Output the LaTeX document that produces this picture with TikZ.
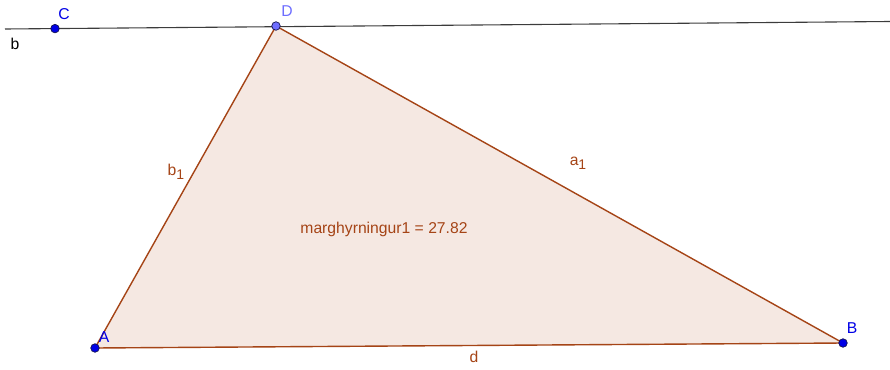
\documentclass[tikz,border=0pt]{standalone}
\usepackage{fontspec}
\setmainfont{Liberation Sans}
\usepackage{tikz}
\usetikzlibrary{calc}
\definecolor{ggbrown}{RGB}{165,68,22}
\definecolor{ggfill}{RGB}{245,232,226}
\definecolor{ggblue}{RGB}{0,0,230}
\definecolor{ggdark}{RGB}{20,20,80}
\definecolor{gglight}{RGB}{110,110,255}
\definecolor{ggline}{RGB}{60,60,60}
\newcommand{\ggsub}[1]{\raisebox{-0.45ex}{\fontsize{14}{14}\selectfont #1}}

\begin{document}
\begin{tikzpicture}[x=1pt,y=-1pt,
    lbl/.style={font=\fontsize{15.7}{17}\selectfont},
    pt/.style={circle,fill=ggblue,draw=ggdark,line width=0.7pt,inner sep=0pt,minimum size=8.5pt},
    freept/.style={pt,fill=gglight}]
  \useasboundingbox (0,0) rectangle (890,369);
  % ---- points
  \coordinate (A) at (95,348);
  \coordinate (B) at (843,343);
  \coordinate (D) at (276,26);
  \coordinate (bl) at (5,29);
  \coordinate (br) at (890,21.5);
  % ---- line b through C and D
  \draw[ggline,line width=1.1pt] (bl) -- (br);
  % ---- polygon
  \filldraw[ggbrown,fill=ggfill,line width=1.4pt,line join=round] (A) -- (B) -- (D) -- cycle;
  \node[lbl,text=ggbrown] (area) at (384,229) {marghyrningur1 = 27.82};
  \node[lbl,text=ggbrown] (lbd) at (474,357) {d};
  \node[lbl,text=ggbrown] (lbb) at (176,172) {b\ggsub{1}};
  \node[lbl,text=ggbrown] (lba) at (578,163) {a\ggsub{1}};
  \node[lbl,text=black] (lbline) at (15,44) {b};
  % ---- point marks
  \node[pt] (C) at (55,28.6) {};
  \node[freept] (Dp) at (D) {};
  \node[pt] (Ap) at (A) {};
  \node[pt] (Bp) at (B) {};
  \node[lbl,text=ggblue] at (64,14) {C};
  \node[lbl,text=gglight] at (287,11) {D};
  \node[lbl,text=ggblue] at (104,337) {A};
  \node[lbl,text=ggblue] at (852,328) {B};
\end{tikzpicture}
\end{document}
